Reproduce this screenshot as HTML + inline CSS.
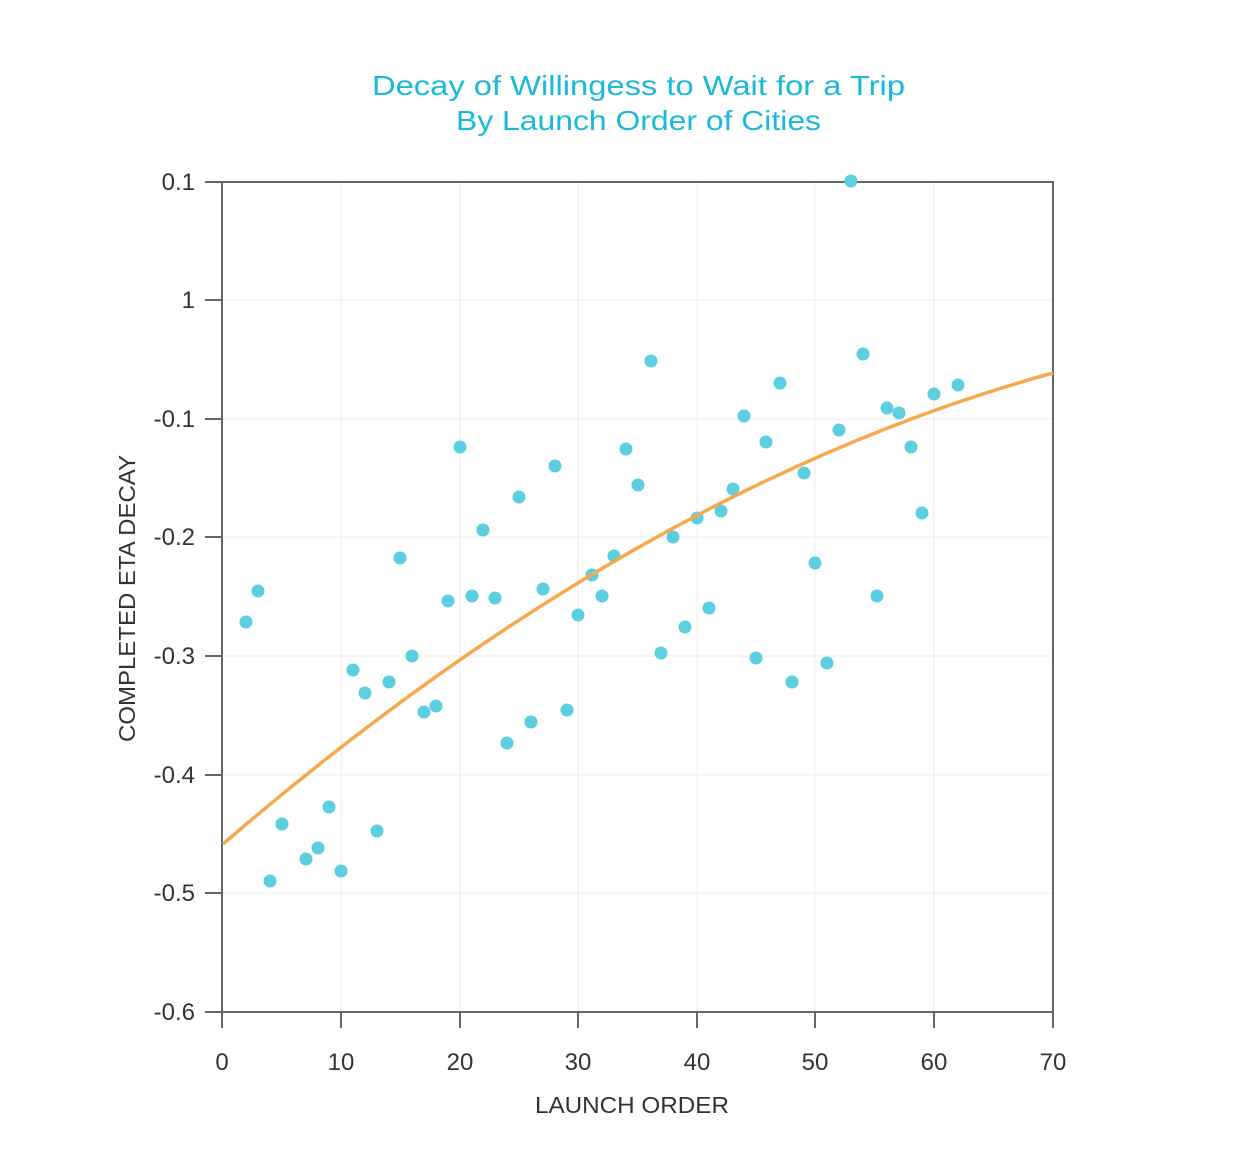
<!DOCTYPE html>
<html><head><meta charset="utf-8"><style>
html,body{margin:0;padding:0;background:#fff;}
svg{display:block;}
text{font-family:"Liberation Sans",sans-serif;}
</style></head><body>
<svg width="1244" height="1167" viewBox="0 0 1244 1167">
<rect width="1244" height="1167" fill="#fff"/>
<text x="372" y="95" font-size="28" fill="#1ab9d9" textLength="533" lengthAdjust="spacingAndGlyphs">Decay of Willingess to Wait for a Trip</text>
<text x="456" y="130" font-size="28" fill="#1ab9d9" textLength="365" lengthAdjust="spacingAndGlyphs">By Launch Order of Cities</text>
<g stroke="#eeeeee" stroke-width="1">
<line x1="341" y1="182" x2="341" y2="1012"/><line x1="460" y1="182" x2="460" y2="1012"/>
<line x1="578" y1="182" x2="578" y2="1012"/><line x1="697" y1="182" x2="697" y2="1012"/>
<line x1="815" y1="182" x2="815" y2="1012"/><line x1="934" y1="182" x2="934" y2="1012"/>
<line x1="222" y1="300" x2="1053" y2="300"/><line x1="222" y1="419" x2="1053" y2="419"/>
<line x1="222" y1="537" x2="1053" y2="537"/><line x1="222" y1="656" x2="1053" y2="656"/>
<line x1="222" y1="775" x2="1053" y2="775"/><line x1="222" y1="893" x2="1053" y2="893"/>
</g>
<g stroke="#666" stroke-width="2" fill="none">
<rect x="222" y="182" width="831" height="830"/>
<line x1="205" y1="182" x2="222" y2="182"/><line x1="205" y1="300" x2="222" y2="300"/>
<line x1="205" y1="419" x2="222" y2="419"/><line x1="205" y1="537" x2="222" y2="537"/>
<line x1="205" y1="656" x2="222" y2="656"/><line x1="205" y1="775" x2="222" y2="775"/>
<line x1="205" y1="893" x2="222" y2="893"/><line x1="205" y1="1012" x2="222" y2="1012"/>
<line x1="222" y1="1012" x2="222" y2="1028"/><line x1="341" y1="1012" x2="341" y2="1028"/>
<line x1="460" y1="1012" x2="460" y2="1028"/><line x1="578" y1="1012" x2="578" y2="1028"/>
<line x1="697" y1="1012" x2="697" y2="1028"/><line x1="815" y1="1012" x2="815" y2="1028"/>
<line x1="934" y1="1012" x2="934" y2="1028"/><line x1="1053" y1="1012" x2="1053" y2="1028"/>
</g>
<g font-size="24" fill="#333" text-anchor="end">
<text x="195" y="190">0.1</text><text x="195" y="308">1</text><text x="195" y="427">-0.1</text>
<text x="195" y="545">-0.2</text><text x="195" y="664">-0.3</text><text x="195" y="783">-0.4</text>
<text x="195" y="901">-0.5</text><text x="195" y="1020">-0.6</text>
</g>
<g font-size="24" fill="#333" text-anchor="middle">
<text x="222" y="1070">0</text><text x="341" y="1070">10</text><text x="460" y="1070">20</text>
<text x="578" y="1070">30</text><text x="697" y="1070">40</text><text x="815" y="1070">50</text>
<text x="934" y="1070">60</text><text x="1053" y="1070">70</text>
</g>
<text x="535" y="1113" font-size="23" fill="#333" textLength="194" lengthAdjust="spacingAndGlyphs">LAUNCH ORDER</text>
<text transform="translate(135,742) rotate(-90)" font-size="23" fill="#333" textLength="287" lengthAdjust="spacingAndGlyphs">COMPLETED ETA DECAY</text>
<g fill="#5bcfe0">
<circle cx="246" cy="622" r="6.5"/><circle cx="258" cy="591" r="6.5"/><circle cx="270" cy="881" r="6.5"/><circle cx="282" cy="824" r="6.5"/><circle cx="306" cy="859" r="6.5"/><circle cx="318" cy="848" r="6.5"/><circle cx="329" cy="807" r="6.5"/><circle cx="341" cy="871" r="6.5"/><circle cx="353" cy="670" r="6.5"/><circle cx="365" cy="693" r="6.5"/><circle cx="377" cy="831" r="6.5"/><circle cx="389" cy="682" r="6.5"/><circle cx="400" cy="558" r="6.5"/><circle cx="412" cy="656" r="6.5"/><circle cx="424" cy="712" r="6.5"/><circle cx="436" cy="706" r="6.5"/><circle cx="448" cy="601" r="6.5"/><circle cx="460" cy="447" r="6.5"/><circle cx="472" cy="596" r="6.5"/><circle cx="483" cy="530" r="6.5"/><circle cx="495" cy="598" r="6.5"/><circle cx="507" cy="743" r="6.5"/><circle cx="519" cy="497" r="6.5"/><circle cx="531" cy="722" r="6.5"/><circle cx="543" cy="589" r="6.5"/><circle cx="555" cy="466" r="6.5"/><circle cx="567" cy="710" r="6.5"/><circle cx="578" cy="615" r="6.5"/><circle cx="592" cy="575" r="6.5"/><circle cx="602" cy="596" r="6.5"/><circle cx="614" cy="556" r="6.5"/><circle cx="626" cy="449" r="6.5"/><circle cx="638" cy="485" r="6.5"/><circle cx="651" cy="361" r="6.5"/><circle cx="661" cy="653" r="6.5"/><circle cx="673" cy="537" r="6.5"/><circle cx="685" cy="627" r="6.5"/><circle cx="697" cy="518" r="6.5"/><circle cx="709" cy="608" r="6.5"/><circle cx="721" cy="511" r="6.5"/><circle cx="733" cy="489" r="6.5"/><circle cx="744" cy="416" r="6.5"/><circle cx="756" cy="658" r="6.5"/><circle cx="766" cy="442" r="6.5"/><circle cx="780" cy="383" r="6.5"/><circle cx="792" cy="682" r="6.5"/><circle cx="804" cy="473" r="6.5"/><circle cx="815" cy="563" r="6.5"/><circle cx="827" cy="663" r="6.5"/><circle cx="839" cy="430" r="6.5"/><circle cx="851" cy="181" r="6.5"/><circle cx="863" cy="354" r="6.5"/><circle cx="877" cy="596" r="6.5"/><circle cx="887" cy="408" r="6.5"/><circle cx="899" cy="413" r="6.5"/><circle cx="911" cy="447" r="6.5"/><circle cx="922" cy="513" r="6.5"/><circle cx="934" cy="394" r="6.5"/><circle cx="958" cy="385" r="6.5"/>
</g>
<path d="M223,844 Q637.5,487 1053,373" fill="none" stroke="#f8a84c" stroke-width="3.5"/>
</svg>
</body></html>
